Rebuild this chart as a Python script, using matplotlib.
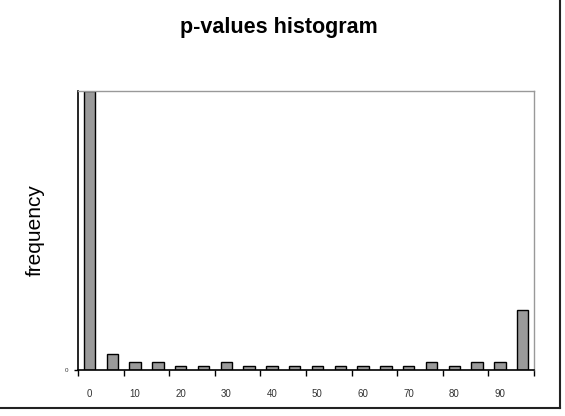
import numpy as np
import matplotlib
matplotlib.use("Agg")
import matplotlib.pyplot as plt
from matplotlib.lines import Line2D

# p-value bins (percent) and counts
bins = [0, 5, 10, 15, 20, 25, 30, 35, 40, 45, 50, 55, 60, 65, 70, 75, 80, 85, 90, 95]
counts = [70, 4, 2, 2, 1, 1, 2, 1, 1, 1, 1, 1, 1, 1, 1, 2, 1, 2, 2, 15]
tick_labels = ["0", "10", "20", "30", "40", "50", "60", "70", "80", "90"]

plt.rcParams["font.family"] = ["Liberation Sans", "DejaVu Sans"]

fig = plt.figure(figsize=(5.65, 4.16), dpi=100)
ax = fig.add_axes([78/565, 46/416, 456/565, 279/416])

x = np.arange(len(bins))
ax.bar(x, counts, width=0.5, color="#9a9a9a", edgecolor="black", linewidth=1.0)

ax.set_xlim(-0.5, len(bins) - 0.5)
ax.set_ylim(0, max(counts))

ax.set_xticks(x[::2])
ax.set_xticklabels(tick_labels, fontsize=7, color="#333333")
ax.tick_params(axis="x", which="major", length=0, pad=14)
ax.set_xticks(np.arange(-0.5, len(bins), 2), minor=True)
ax.tick_params(axis="x", which="minor", length=4, direction="out", width=1)

ax.set_yticks([0])
ax.set_yticklabels(["0"], fontsize=4.5, color="#333333")
ax.tick_params(axis="y", length=3, direction="out", width=1, pad=4)

for s in ["left", "bottom"]:
    ax.spines[s].set_color("black")
    ax.spines[s].set_linewidth(1.2)
for s in ["top", "right"]:
    ax.spines[s].set_color("#999999")
    ax.spines[s].set_linewidth(1.0)

fig.text(279/565, 1 - 28/416, "p-values histogram", ha="center", va="center",
         fontsize=15.5, fontweight="bold")
fig.text(35/565, 1 - 230/416, "frequency", ha="center", va="center",
         rotation=90, fontsize=15)

# outer frame (right and bottom edges only)
fig.add_artist(Line2D([560/565, 560/565], [1, 8/416], transform=fig.transFigure,
                      color="#222222", linewidth=1.5))
fig.add_artist(Line2D([0, 560/565], [8/416, 8/416], transform=fig.transFigure,
                      color="#222222", linewidth=1.5))

fig.savefig("out.png", dpi=100)
